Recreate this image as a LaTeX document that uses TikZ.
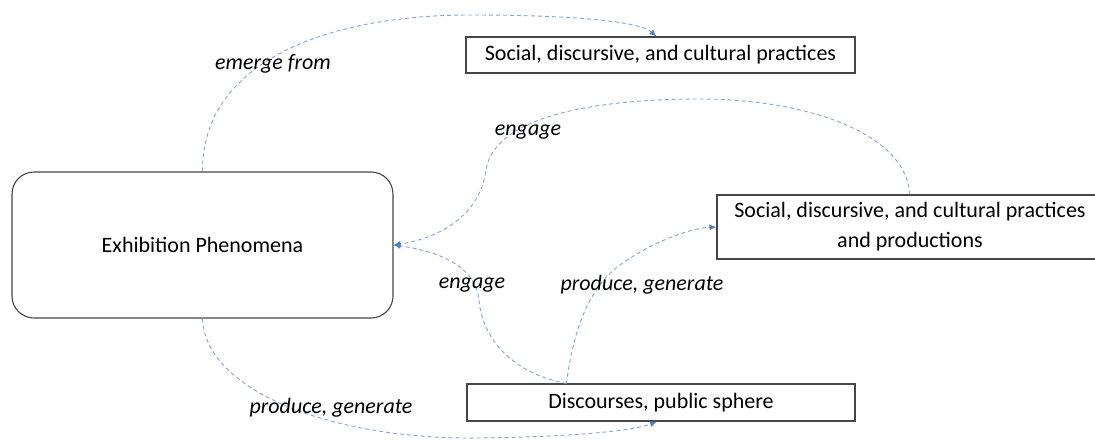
\documentclass[tikz,border=0pt]{standalone}
\usepackage{fontspec}
\setmainfont{Carlito}
\usetikzlibrary{arrows.meta}
\definecolor{connc}{RGB}{135,165,212}
\definecolor{tipc}{RGB}{80,128,196}
\definecolor{edgec}{RGB}{70,70,70}
\begin{document}
\begin{tikzpicture}[x=1pt,y=-1pt,
  box/.style={draw=edgec, line width=1.1pt, inner sep=0pt, font=\fontsize{22}{30}\selectfont, align=center},
  lab/.style={font=\fontsize{22}{30}\selectfont\itshape, inner sep=0pt},
  conn/.style={draw=connc, dash pattern=on 4pt off 3pt, line width=0.9pt,
    -{Latex[length=7pt,width=6pt,fill=tipc,color=tipc]}}]
\clip (0,0) rectangle (1095,440);
\fill[white] (0,0) rectangle (1095,440);

\node[box, rounded corners=22pt, minimum width=381pt, minimum height=146pt] (ex) at (202.5,245) {Exhibition Phenomena};
\node[box, minimum width=389pt, minimum height=36pt] (top) at (660.5,55) {Social, discursive, and cultural practices};
\node[box, minimum width=386pt, minimum height=64pt] (right) at (910,227) {Social, discursive, and cultural practices\\and productions};
\node[box, minimum width=388pt, minimum height=37pt] (bot) at (661,402.5) {Discourses, public sphere};
\coordinate (j) at ([xshift=100pt]bot.north west);

\draw[conn] (ex.north) .. controls (202,60) and (330,15) .. (470,15)
  .. controls (580,15) and (640,22) .. ([xshift=-4pt]top.north);
\draw[conn] (right.north) .. controls (905,130) and (800,99) .. (700,99)
  .. controls (610,99) and (495,112) .. (486,170)
  .. controls (480,215) and (440,238) .. (ex.east);
\draw[conn] (j) .. controls (520,375) and (483,345) .. (479,300)
  .. controls (475,262) and (430,250) .. (ex.east);
\draw[conn] (j) .. controls (572,340) and (585,290) .. (620,265)
  .. controls (650,243) and (690,228) .. (right.west);
\draw[conn] (ex.south) .. controls (205,390) and (330,440) .. (480,438)
  .. controls (560,437) and (630,432) .. ([xshift=-4pt]bot.south);

\node[lab] (l1) at (273,64) {emerge from};
\node[lab] (l2) at (528,132) {engage};
\node[lab] (l3) at (472,285) {engage};
\node[lab] (l4) at (642,285) {produce, generate};
\node[lab] (l5) at (331,408) {produce, generate};
\end{tikzpicture}
\end{document}
